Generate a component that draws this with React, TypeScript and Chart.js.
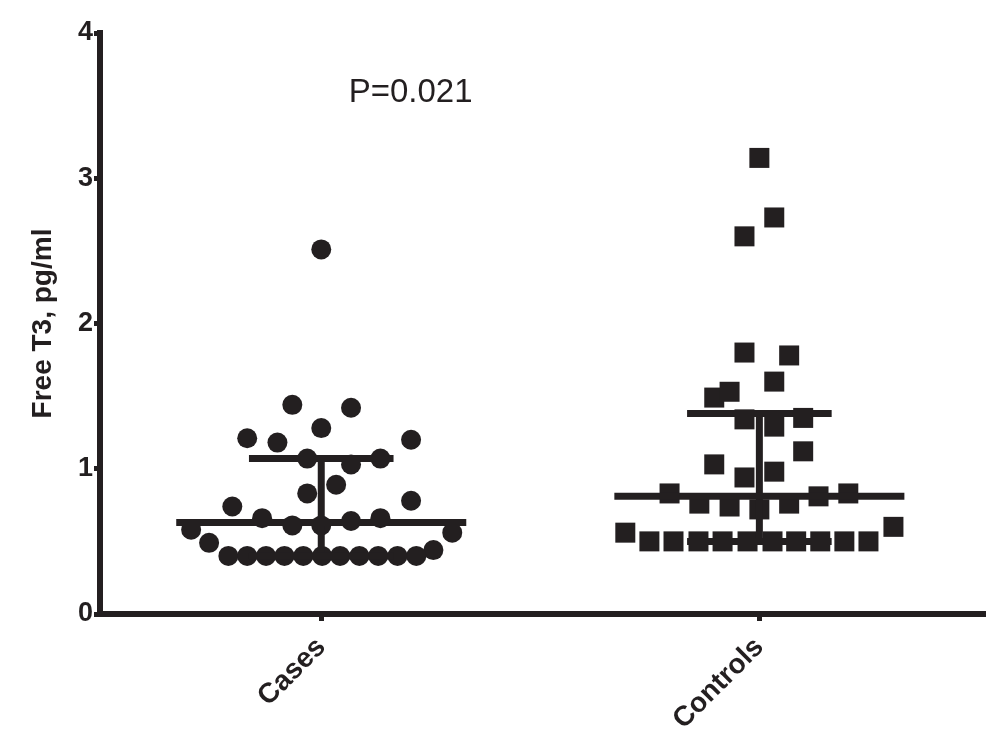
import React, { useEffect, useRef } from "react";
import Chart from "chart.js/auto";

// ---- Data ----
const categories = ["Cases", "Controls"];
const yTickValues = [0, 1, 2, 3, 4];

const casesValues = [
  2.51, 1.44, 1.42, 1.28, 1.21, 1.18, 1.2, 1.07, 1.03, 1.07, 0.89, 0.83,
  0.74, 0.78, 0.66, 0.61, 0.61, 0.64, 0.66, 0.58, 0.56, 0.49, 0.44,
  0.4, 0.4, 0.4, 0.4, 0.4, 0.4, 0.4, 0.4, 0.4, 0.4, 0.4,
];
// horizontal scatter offsets (in category units)
const casesJitter = [
  0, -0.066, 0.068, 0, -0.169, -0.1, 0.205, -0.032, 0.068, 0.135, 0.034, -0.032,
  -0.203, 0.205, -0.135, -0.066, 0, 0.068, 0.135, -0.297, 0.299, -0.256, 0.256,
  -0.212, -0.169, -0.126, -0.084, -0.041, 0.002, 0.043, 0.087, 0.13, 0.174, 0.217,
];

const controlsValues = [
  3.14, 2.73, 2.6, 1.8, 1.78, 1.6, 1.49, 1.53, 1.34, 1.29, 1.35, 1.12, 1.03,
  0.94, 0.98, 0.83, 0.76, 0.74, 0.72, 0.76, 0.81, 0.83, 0.56, 0.6,
  0.5, 0.5, 0.5, 0.5, 0.5, 0.5, 0.5, 0.5, 0.5, 0.5,
];
const controlsJitter = [
  0, 0.034, -0.034, -0.034, 0.068, 0.034, -0.103, -0.068, -0.034, 0.034, 0.1, 0.1, -0.103,
  -0.034, 0.034, -0.205, -0.137, -0.068, 0, 0.068, 0.135, 0.203, -0.306, 0.306,
  -0.251, -0.196, -0.139, -0.084, -0.027, 0.03, 0.084, 0.139, 0.194, 0.249,
];

const medians = [0.63, 0.81];
const lowerQuartiles = [0.4, 0.5];
const upperQuartiles = [1.07, 1.38];

const pValueText = "P=0.021";
const pValuePosition = [1.204, 3.525];
const yTitle = "Free T3, pg/ml";

// ---- Styling ----
const INK = "#231f20";
const FONT = '"Liberation Sans", Arial, Helvetica, sans-serif';
const MEDIAN_HALF = 0.331;
const CAP_HALF = 0.165;
const LINE_W = 7;

function segment(x1: number, y1: number, x2: number, y2: number) {
  return {
    type: "line" as const,
    data: [
      { x: x1, y: y1 },
      { x: x2, y: y2 },
    ],
    showLine: true,
    borderColor: INK,
    borderWidth: LINE_W,
    borderCapStyle: "butt" as const,
    pointRadius: 0,
    fill: false,
  };
}

export default function App() {
  const canvasRef = useRef<HTMLCanvasElement | null>(null);

  useEffect(() => {
    const canvas = canvasRef.current;
    if (!canvas) return;

    const lineSets: any[] = [];
    categories.forEach((_, i) => {
      const c = i + 1;
      lineSets.push(segment(c - MEDIAN_HALF, medians[i], c + MEDIAN_HALF, medians[i]));
      lineSets.push(segment(c - CAP_HALF, upperQuartiles[i], c + CAP_HALF, upperQuartiles[i]));
      lineSets.push(segment(c - CAP_HALF, lowerQuartiles[i], c + CAP_HALF, lowerQuartiles[i]));
      lineSets.push(segment(c, lowerQuartiles[i], c, upperQuartiles[i]));
    });

    const pPlugin = {
      id: "pvalue",
      afterDraw(chart: any) {
        const { ctx, scales } = chart;
        ctx.save();
        ctx.fillStyle = INK;
        ctx.font = `33px ${FONT}`;
        ctx.textAlign = "center";
        ctx.textBaseline = "alphabetic";
        ctx.fillText(
          pValueText,
          scales.x.getPixelForValue(pValuePosition[0]),
          scales.y.getPixelForValue(pValuePosition[1])
        );
        ctx.restore();
      },
    };

    const chart = new Chart(canvas, {
      type: "scatter",
      data: {
        datasets: [
          ...lineSets,
          {
            type: "scatter",
            data: casesValues.map((v, i) => ({ x: 1 + casesJitter[i], y: v })),
            pointStyle: "circle",
            pointRadius: 10,
            pointBackgroundColor: INK,
            pointBorderWidth: 0,
          },
          {
            type: "scatter",
            data: controlsValues.map((v, i) => ({ x: 2 + controlsJitter[i], y: v })),
            pointStyle: "rect",
            pointRadius: 14.14,
            pointBackgroundColor: INK,
            pointBorderWidth: 0,
          },
        ],
      },
      options: {
        animation: false,
        responsive: false,
        devicePixelRatio: 1,
        events: [],
        layout: { padding: { top: 33, right: 15, left: 0, bottom: 0 } },
        plugins: { legend: { display: false }, tooltip: { enabled: false } },
        scales: {
          x: {
            type: "linear",
            min: 0.495,
            max: 2.515,
            afterBuildTicks: (s: any) => {
              s.ticks = categories.map((_, i) => ({ value: i + 1 }));
            },
            afterFit: (s: any) => {
              s.height = 121;
            },
            border: { display: true, width: 6, color: INK },
            grid: {
              display: true,
              drawOnChartArea: false,
              drawTicks: true,
              tickLength: 7,
              tickWidth: 5,
              tickColor: INK,
            },
            ticks: {
              color: INK,
              font: { family: FONT, size: 28, weight: "bold" },
              minRotation: 45,
              maxRotation: 45,
              autoSkip: false,
              padding: 10,
              callback: (v: any) => categories[Math.round(Number(v)) - 1] ?? "",
            },
          },
          y: {
            type: "linear",
            min: 0,
            max: 4,
            afterBuildTicks: (s: any) => {
              s.ticks = yTickValues.map((v) => ({ value: v }));
            },
            afterFit: (s: any) => {
              s.width = 100;
            },
            border: { display: true, width: 6, color: INK },
            grid: {
              display: true,
              drawOnChartArea: false,
              drawTicks: true,
              tickLength: 6,
              tickWidth: 5,
              tickColor: INK,
            },
            ticks: {
              color: INK,
              font: { family: FONT, size: 27, weight: "bold" },
              padding: 1,
              callback: (v: any) => String(v),
            },
            title: {
              display: true,
              text: yTitle,
              color: INK,
              font: { family: FONT, size: 28, weight: "bold" },
              padding: { top: 26, bottom: 0 },
            },
          },
        },
      },
      plugins: [pPlugin],
    } as any);

    return () => chart.destroy();
  }, []);

  return (
    <div
      style={{
        position: "fixed",
        left: 0,
        top: 0,
        width: 1000,
        height: 735,
        background: "#ffffff",
      }}
    >
      <canvas ref={canvasRef} width={1000} height={735} />
    </div>
  );
}
